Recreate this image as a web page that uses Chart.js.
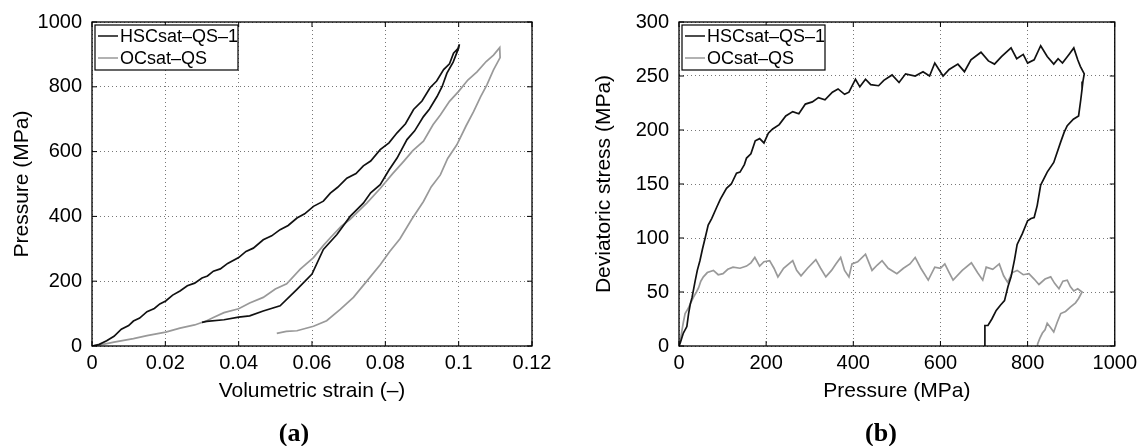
<!DOCTYPE html>
<html>
<head>
<meta charset="utf-8">
<script src="https://cdn.jsdelivr.net/npm/chart.js@4.4.1/dist/chart.umd.min.js"></script>
<style>
  body { margin: 0; background: #fff; }
  #wrap { position: relative; width: 1142px; height: 446px; overflow: hidden; }
  canvas { position: absolute; top: 0; }
  .cap { position: absolute; top: 418px; width: 80px; text-align: center;
         font: bold 26px "Liberation Serif", serif; color: #000; }
</style>
</head>
<body>
<div id="wrap">
  <canvas id="left" width="571" height="446" style="left:0"></canvas>
  <canvas id="right" width="571" height="446" style="left:571px"></canvas>
  <div class="cap" style="left:254px">(a)</div>
  <div class="cap" style="left:841px">(b)</div>
</div>
<script>
// ---- (a) pressure vs volumetric strain ----
const seriesNames = ["HSCsat\u2013QS\u20131", "OCsat\u2013QS"];

const hscStrain = [0.000, 0.002, 0.004, 0.006, 0.008, 0.010, 0.0113, 0.013, 0.015, 0.017, 0.0185, 0.0201,
  0.022, 0.024, 0.026, 0.028, 0.030, 0.0315, 0.0331, 0.035, 0.037, 0.040, 0.042, 0.044, 0.0467, 0.049,
  0.0513, 0.0535, 0.0559, 0.058, 0.0604, 0.0631, 0.065, 0.067, 0.0695, 0.072, 0.074, 0.076, 0.0786, 0.081,
  0.0832, 0.0855, 0.0877, 0.090, 0.0922, 0.094, 0.0959, 0.0975, 0.0986, 0.0998, 0.1002,
  0.1000, 0.0985, 0.0968, 0.0955, 0.0941, 0.092, 0.0904, 0.088, 0.0859, 0.0832, 0.081, 0.0786, 0.076,
  0.074, 0.0704, 0.0668, 0.0631, 0.0600, 0.0559, 0.0513, 0.0467, 0.0430, 0.040, 0.036, 0.0313, 0.030];
const hscPressure = [0, 5, 16, 30, 52, 63, 77, 86, 106, 116, 130, 139,
  157, 170, 186, 194, 210, 216, 231, 238, 255, 273, 292, 302, 328, 340,
  359, 372, 395, 408, 431, 447, 472, 490, 518, 532, 556, 571, 606, 627,
  658, 686, 730, 756, 797, 818, 853, 871, 904, 918, 931,
  920, 876, 842, 801, 770, 731, 708, 664, 637, 580, 543, 498, 473,
  441, 400, 344, 298, 222, 175, 124, 108, 93, 89, 81, 76, 73];

const ocStrain = [0.000, 0.003, 0.006, 0.0113, 0.015, 0.0201, 0.024, 0.028, 0.0313, 0.0331, 0.036, 0.040,
  0.043, 0.0467, 0.050, 0.0531, 0.0568, 0.0604, 0.063, 0.065, 0.068, 0.0704, 0.075, 0.0786, 0.082, 0.085,
  0.0875, 0.0904, 0.093, 0.095, 0.0975, 0.100, 0.1025, 0.105, 0.1075, 0.1095, 0.1112,
  0.1113, 0.1095, 0.1077, 0.106, 0.1041, 0.102, 0.0995, 0.097, 0.095, 0.0925, 0.0904, 0.0872, 0.084,
  0.0812, 0.0786, 0.075, 0.0713, 0.0677, 0.064, 0.0604, 0.0559, 0.053, 0.0504];
const ocPressure = [0, 5, 12, 23, 32, 43, 55, 65, 78, 88, 103, 115,
  133, 150, 176, 192, 237, 273, 309, 334, 370, 391, 442, 486, 532, 570,
  603, 632, 683, 713, 755, 786, 821, 846, 878, 898, 921,
  890, 852, 806, 770, 724, 679, 621, 579, 528, 491, 446, 391, 331,
  292, 251, 201, 150, 113, 78, 61, 47, 45, 39];

const leftXTicks = ["0", "0.02", "0.04", "0.06", "0.08", "0.1", "0.12"];
const leftYTicks = ["0", "200", "400", "600", "800", "1000"];

// ---- (b) deviatoric stress vs pressure ----
const hscP = [0, 3, 10, 18, 22, 26, 30, 37, 42, 48, 54, 60, 67, 75, 86, 95, 109, 120, 132, 140, 150, 155,
  165, 175, 185, 195, 205, 215, 230, 245, 261, 275, 290, 306, 320, 335, 352, 365, 380, 390, 405, 415,
  428, 440, 458, 470, 489, 505, 520, 542, 560, 575, 587, 606, 620, 640, 655, 670, 693, 710, 724, 740,
  762, 775, 790, 800, 815, 830, 845, 860, 870, 880, 895, 906, 915, 921, 930, 927, 925, 922, 917, 905,
  891, 884, 876, 860, 845, 830, 822, 815, 808, 800, 788, 776, 770, 762, 755, 747, 738, 728, 718, 709,
  702, 702];
const hscQ = [0, 3, 12, 18, 30, 39, 45, 60, 70, 79, 90, 100, 112, 118, 128, 136, 146, 150, 160, 161, 168, 174,
  178, 190, 192, 188, 197, 201, 205, 213, 217, 215, 224, 226, 230, 228, 235, 238, 233, 235, 247, 240,
  247, 242, 241, 246, 251, 244, 252, 250, 254, 250, 262, 250, 256, 261, 254, 265, 272, 264, 261, 268,
  276, 266, 270, 262, 265, 278, 268, 261, 266, 262, 270, 276, 265, 259, 252, 245, 238, 228, 213, 210,
  204, 198, 189, 170, 161, 149, 130, 119, 118, 116, 104, 94, 80, 64, 55, 42, 38, 33, 25, 19,
  19, 0];

const ocP = [0, 3, 7, 10, 14, 20, 26, 33, 40, 45, 50, 56, 65, 79, 90, 101, 112, 124, 140, 155, 165, 174,
  185, 195, 208, 218, 227, 240, 261, 270, 280, 295, 314, 325, 337, 350, 360, 371, 380, 390, 397, 410,
  428, 443, 455, 466, 480, 500, 515, 530, 542, 555, 572, 587, 600, 610, 620, 629, 650, 671, 685, 697,
  705, 720, 735, 745, 754, 765, 776, 790, 803, 815, 826, 840, 853, 862, 872, 881, 891, 898, 906, 915,
  925, 917, 910, 898, 887, 876, 868, 860, 853, 845, 840, 834, 828, 823, 823];
const ocQ = [0, 5, 15, 22, 30, 34, 39, 45, 50, 54, 60, 64, 68, 70, 66, 67, 71, 73, 72, 74, 77, 82,
  74, 78, 79, 72, 64, 72, 79, 70, 65, 72, 80, 72, 64, 70, 76, 82, 70, 64, 76, 78,
  85, 70, 75, 79, 72, 67, 72, 76, 82, 72, 61, 73, 72, 76, 68, 61, 70, 77, 68, 61,
  73, 71, 76, 65, 59, 68, 70, 66, 67, 62, 57, 62, 64, 58, 53, 60, 61, 55, 51, 53,
  50, 44, 40, 36, 32, 30, 22, 13, 17, 21, 15, 12, 7, 2, 0];

const rightXTicks = ["0", "200", "400", "600", "800", "1000"];
const rightYTicks = ["0", "50", "100", "150", "200", "250", "300"];

const pts = (xs, ys) => xs.map((x, i) => ({ x: x, y: ys[i] }));

Chart.defaults.font.family = "'Liberation Sans', Arial, sans-serif";
Chart.defaults.color = "#000";

// matlab style box, inward ticks, legend box
const matlabBox = {
  id: "matlabBox",
  afterDatasetsDraw(chart) {
    const { ctx, chartArea: a, scales } = chart;
    ctx.save();
    ctx.setLineDash([]);
    ctx.strokeStyle = "#000";
    ctx.lineWidth = 1.3;
    ctx.strokeRect(a.left, a.top, a.right - a.left, a.bottom - a.top);
    ctx.lineWidth = 1;
    ctx.beginPath();
    scales.x.ticks.forEach(t => {
      const px = scales.x.getPixelForValue(t.value);
      ctx.moveTo(px, a.bottom); ctx.lineTo(px, a.bottom - 5);
      ctx.moveTo(px, a.top); ctx.lineTo(px, a.top + 5);
    });
    scales.y.ticks.forEach(t => {
      const py = scales.y.getPixelForValue(t.value);
      ctx.moveTo(a.left, py); ctx.lineTo(a.left + 5, py);
      ctx.moveTo(a.right, py); ctx.lineTo(a.right - 5, py);
    });
    ctx.stroke();

    // legend
    const bx = a.left + 3, by = a.top + 3, bw = 143, bh = 45;
    ctx.fillStyle = "#fff";
    ctx.fillRect(bx, by, bw, bh);
    ctx.lineWidth = 1.2;
    ctx.strokeRect(bx, by, bw, bh);
    ctx.font = "18px 'Liberation Sans', Arial, sans-serif";
    ctx.textBaseline = "middle";
    chart.data.datasets.forEach((ds, i) => {
      const y = by + 11 + i * 22;
      ctx.strokeStyle = ds.borderColor;
      ctx.lineWidth = 1.5;
      ctx.beginPath();
      ctx.moveTo(bx + 3, y); ctx.lineTo(bx + 23, y);
      ctx.stroke();
      ctx.fillStyle = "#000";
      ctx.fillText(ds.label, bx + 25, y + 1);
    });
    ctx.restore();
  }
};

function makeChart(id, sets, o) {
  return new Chart(document.getElementById(id), {
    type: "scatter",
    data: {
      datasets: sets.map((s, i) => ({
        label: seriesNames[i],
        data: s,
        showLine: true,
        borderColor: i === 0 ? "#111" : "#999",
        borderWidth: 1.7,
        pointRadius: 0,
        tension: 0
      }))
    },
    options: {
      responsive: false,
      animation: false,
      layout: { padding: { left: 0, right: o.padRight, top: o.padTop, bottom: 0 } },
      plugins: { legend: { display: false }, tooltip: { enabled: false } },
      scales: {
        x: {
          type: "linear", min: 0, max: o.xMax,
          afterFit: s => { s.height = 100; },
          grid: { color: "#777", lineWidth: 1, drawTicks: false },
          border: { display: false, dash: [1, 3] },
          ticks: { stepSize: o.xStep, autoSkip: false, maxRotation: 0, padding: 5,
                   font: { size: 20 }, callback: (v, i) => o.xTicks[i] },
          title: { display: true, text: o.xTitle, font: { size: 21 }, padding: { bottom: 42 } }
        },
        y: {
          type: "linear", min: 0, max: o.yMax,
          afterFit: s => { s.width = o.yWidth; },
          grid: { color: "#777", lineWidth: 1, drawTicks: false },
          border: { display: false, dash: [1, 3] },
          ticks: { stepSize: o.yStep, autoSkip: false, padding: 10,
                   font: { size: 20 }, callback: (v, i) => o.yTicks[i] },
          title: { display: true, text: o.yTitle, font: { size: 21 }, padding: { top: o.yTitlePad } }
        }
      }
    },
    plugins: [matlabBox]
  });
}

makeChart("left", [pts(hscStrain, hscPressure), pts(ocStrain, ocPressure)], {
  xMax: 0.12, xStep: 0.02, yMax: 1000, yStep: 200,
  xTicks: leftXTicks, yTicks: leftYTicks,
  xTitle: "Volumetric strain (\u2013)", yTitle: "Pressure (MPa)",
  padRight: 39, padTop: 21, yWidth: 92, yTitlePad: 10
});

makeChart("right", [pts(hscP, hscQ), pts(ocP, ocQ)], {
  xMax: 1000, xStep: 200, yMax: 300, yStep: 50,
  xTicks: rightXTicks, yTicks: rightYTicks,
  xTitle: "Pressure (MPa)", yTitle: "Deviatoric stress (MPa)",
  padRight: 24, padTop: 19, yWidth: 108, yTitlePad: 21
});
</script>
</body>
</html>
